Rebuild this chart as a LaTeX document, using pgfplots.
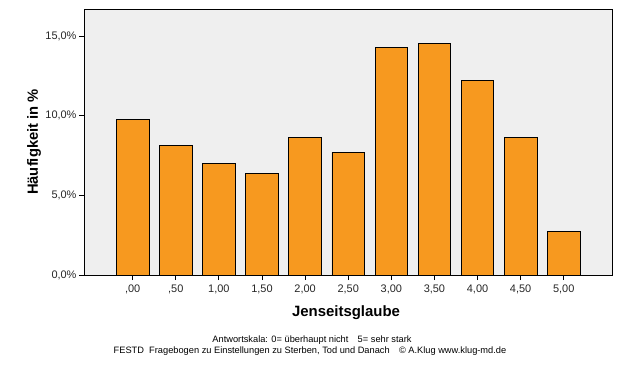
\documentclass[border=0pt]{standalone}
\usepackage{pgfplots}
\pgfplotsset{compat=1.18}
\usepackage{fontspec}
\setmainfont{Liberation Sans}
\definecolor{barfill}{HTML}{F7991F}
\definecolor{plotbg}{HTML}{EFEFEF}
\begin{document}
\begin{tikzpicture}
\path[use as bounding box] (0,0) rectangle (626bp,-366bp);
\begin{axis}[
  at={(84bp,-275bp)}, anchor=south west,
  width=528bp, height=265.5bp, scale only axis=true,
  xmin=-1.13, xmax=11.12, ymin=0, ymax=16.67,
  axis background/.style={fill=plotbg},
  axis line style={black, line width=0.9bp},
  tick pos=left, tick align=outside,
  major tick length=5bp,
  tick style={black, line width=0.9bp},
  xtick={0,1,2,3,4,5,6,7,8,9,10},
  xticklabels={{,00},{,50},{1,00},{1,50},{2,00},{2,50},{3,00},{3,50},{4,00},{4,50},{5,00}},
  ytick={0,5,10,15},
  yticklabels={{0,0\%},{5,0\%},{10,0\%},{15,0\%}},
  tick label style={font=\fontsize{11}{13}\selectfont, text=black!85},
  xticklabel style={yshift=-1bp},
  yticklabel style={xshift=1bp},
  /pgf/number format/assume math mode=true,
]
\addplot[ybar, bar width=0.757, fill=barfill, draw=black, line width=0.8bp] coordinates {
 (0,9.75) (1,8.16) (2,7.02) (3,6.36) (4,8.62) (5,7.70) (6,14.27) (7,14.52) (8,12.24) (9,8.62) (10,2.72)
};
\end{axis}
\node[rotate=90, font=\bfseries\fontsize{14.8}{16}\selectfont] at (34bp,-142bp) {Häufigkeit in \%};
\node[font=\bfseries\fontsize{15}{17}\selectfont] at (346bp,-313bp) {Jenseitsglaube};
\node[font=\fontsize{9.3}{11}\selectfont] at (312bp,-340bp) {Antwortskala: 0= überhaupt nicht\quad 5= sehr stark};
\node[font=\fontsize{9.3}{11}\selectfont] at (310bp,-351bp) {FESTD\ \ Fragebogen zu Einstellungen zu Sterben, Tod und Danach\quad\textcopyright\ A.Klug www.klug-md.de};
\end{tikzpicture}
\end{document}
